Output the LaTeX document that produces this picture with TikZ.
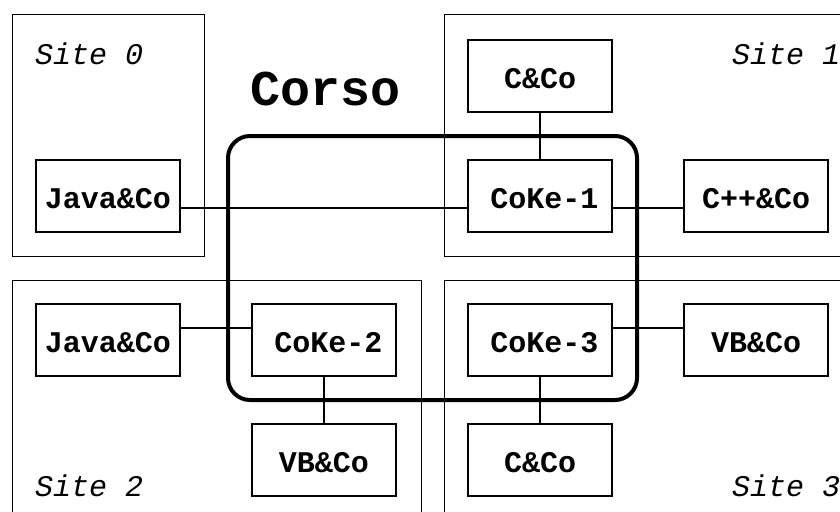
\documentclass[tikz,border=0pt]{standalone}
\usepackage{fontspec}
\setmonofont{Liberation Mono}
\begin{document}
\begin{tikzpicture}[x=1pt,y=-1pt,
  sitebox/.style={draw=black,line width=1pt},
  comp/.style={draw=black,line width=1.3pt,minimum width=144pt,minimum height=72pt,
    inner sep=0pt,text height=25pt,text depth=0pt,
    font=\ttfamily\bfseries\fontsize{30}{36}\selectfont},
  sitelabel/.style={anchor=base west,inner sep=0pt,
    font=\ttfamily\itshape\fontsize{30}{36}\selectfont},
  conn/.style={line width=2.4pt},
  bus/.style={line width=4pt,rounded corners=22pt}]
\clip (0,0) rectangle (840,511);
\fill[white] (0,0) rectangle (840,511);

% the four sites
\draw[sitebox] (12,15) rectangle (204,256);
\draw[sitebox] (444,15) rectangle (880,256);
\draw[sitebox] (12,280) rectangle (421,540);
\draw[sitebox] (444,280) rectangle (880,540);

\node[sitelabel] (s0) at (35,64) {Site 0};
\node[sitelabel] (s1) at (732,64) {Site 1};
\node[sitelabel] (s2) at (35,496) {Site 2};
\node[sitelabel] (s3) at (732,496) {Site 3};

% Corso bus
\draw[bus] (228,136) rectangle (637,400);
\node[anchor=base west,inner sep=0pt,font=\ttfamily\bfseries\fontsize{50}{60}\selectfont]
  (corso) at (250,105) {Corso};

% components
\node[comp] (c1) at (540,76) {C\&Co};
\node[comp] (k1) at (540,196) {\hspace*{9pt}CoKe-1};
\node[comp] (cpp) at (756,196) {C++\&Co};
\node[comp] (j0) at (108,196) {Java\&Co};
\node[comp] (j2) at (108,340) {Java\&Co};
\node[comp] (k2) at (324,340) {\hspace*{9pt}CoKe-2};
\node[comp] (k3) at (540,340) {\hspace*{9pt}CoKe-3};
\node[comp] (vb3) at (756,340) {VB\&Co};
\node[comp] (vb2) at (324,460) {VB\&Co};
\node[comp] (c3) at (540,460) {C\&Co};

% connectors
\draw[conn] ([yshift=-12pt]j0.east) -- ([yshift=-12pt]k1.west);
\draw[conn] ([yshift=-12pt]k1.east) -- ([yshift=-12pt]cpp.west);
\draw[conn] (c1.south) -- (k1.north);
\draw[conn] ([yshift=12pt]j2.east) -- ([yshift=12pt]k2.west);
\draw[conn] (k2.south) -- (vb2.north);
\draw[conn] ([yshift=12pt]k3.east) -- ([yshift=12pt]vb3.west);
\draw[conn] (k3.south) -- (c3.north);
\end{tikzpicture}
\end{document}
